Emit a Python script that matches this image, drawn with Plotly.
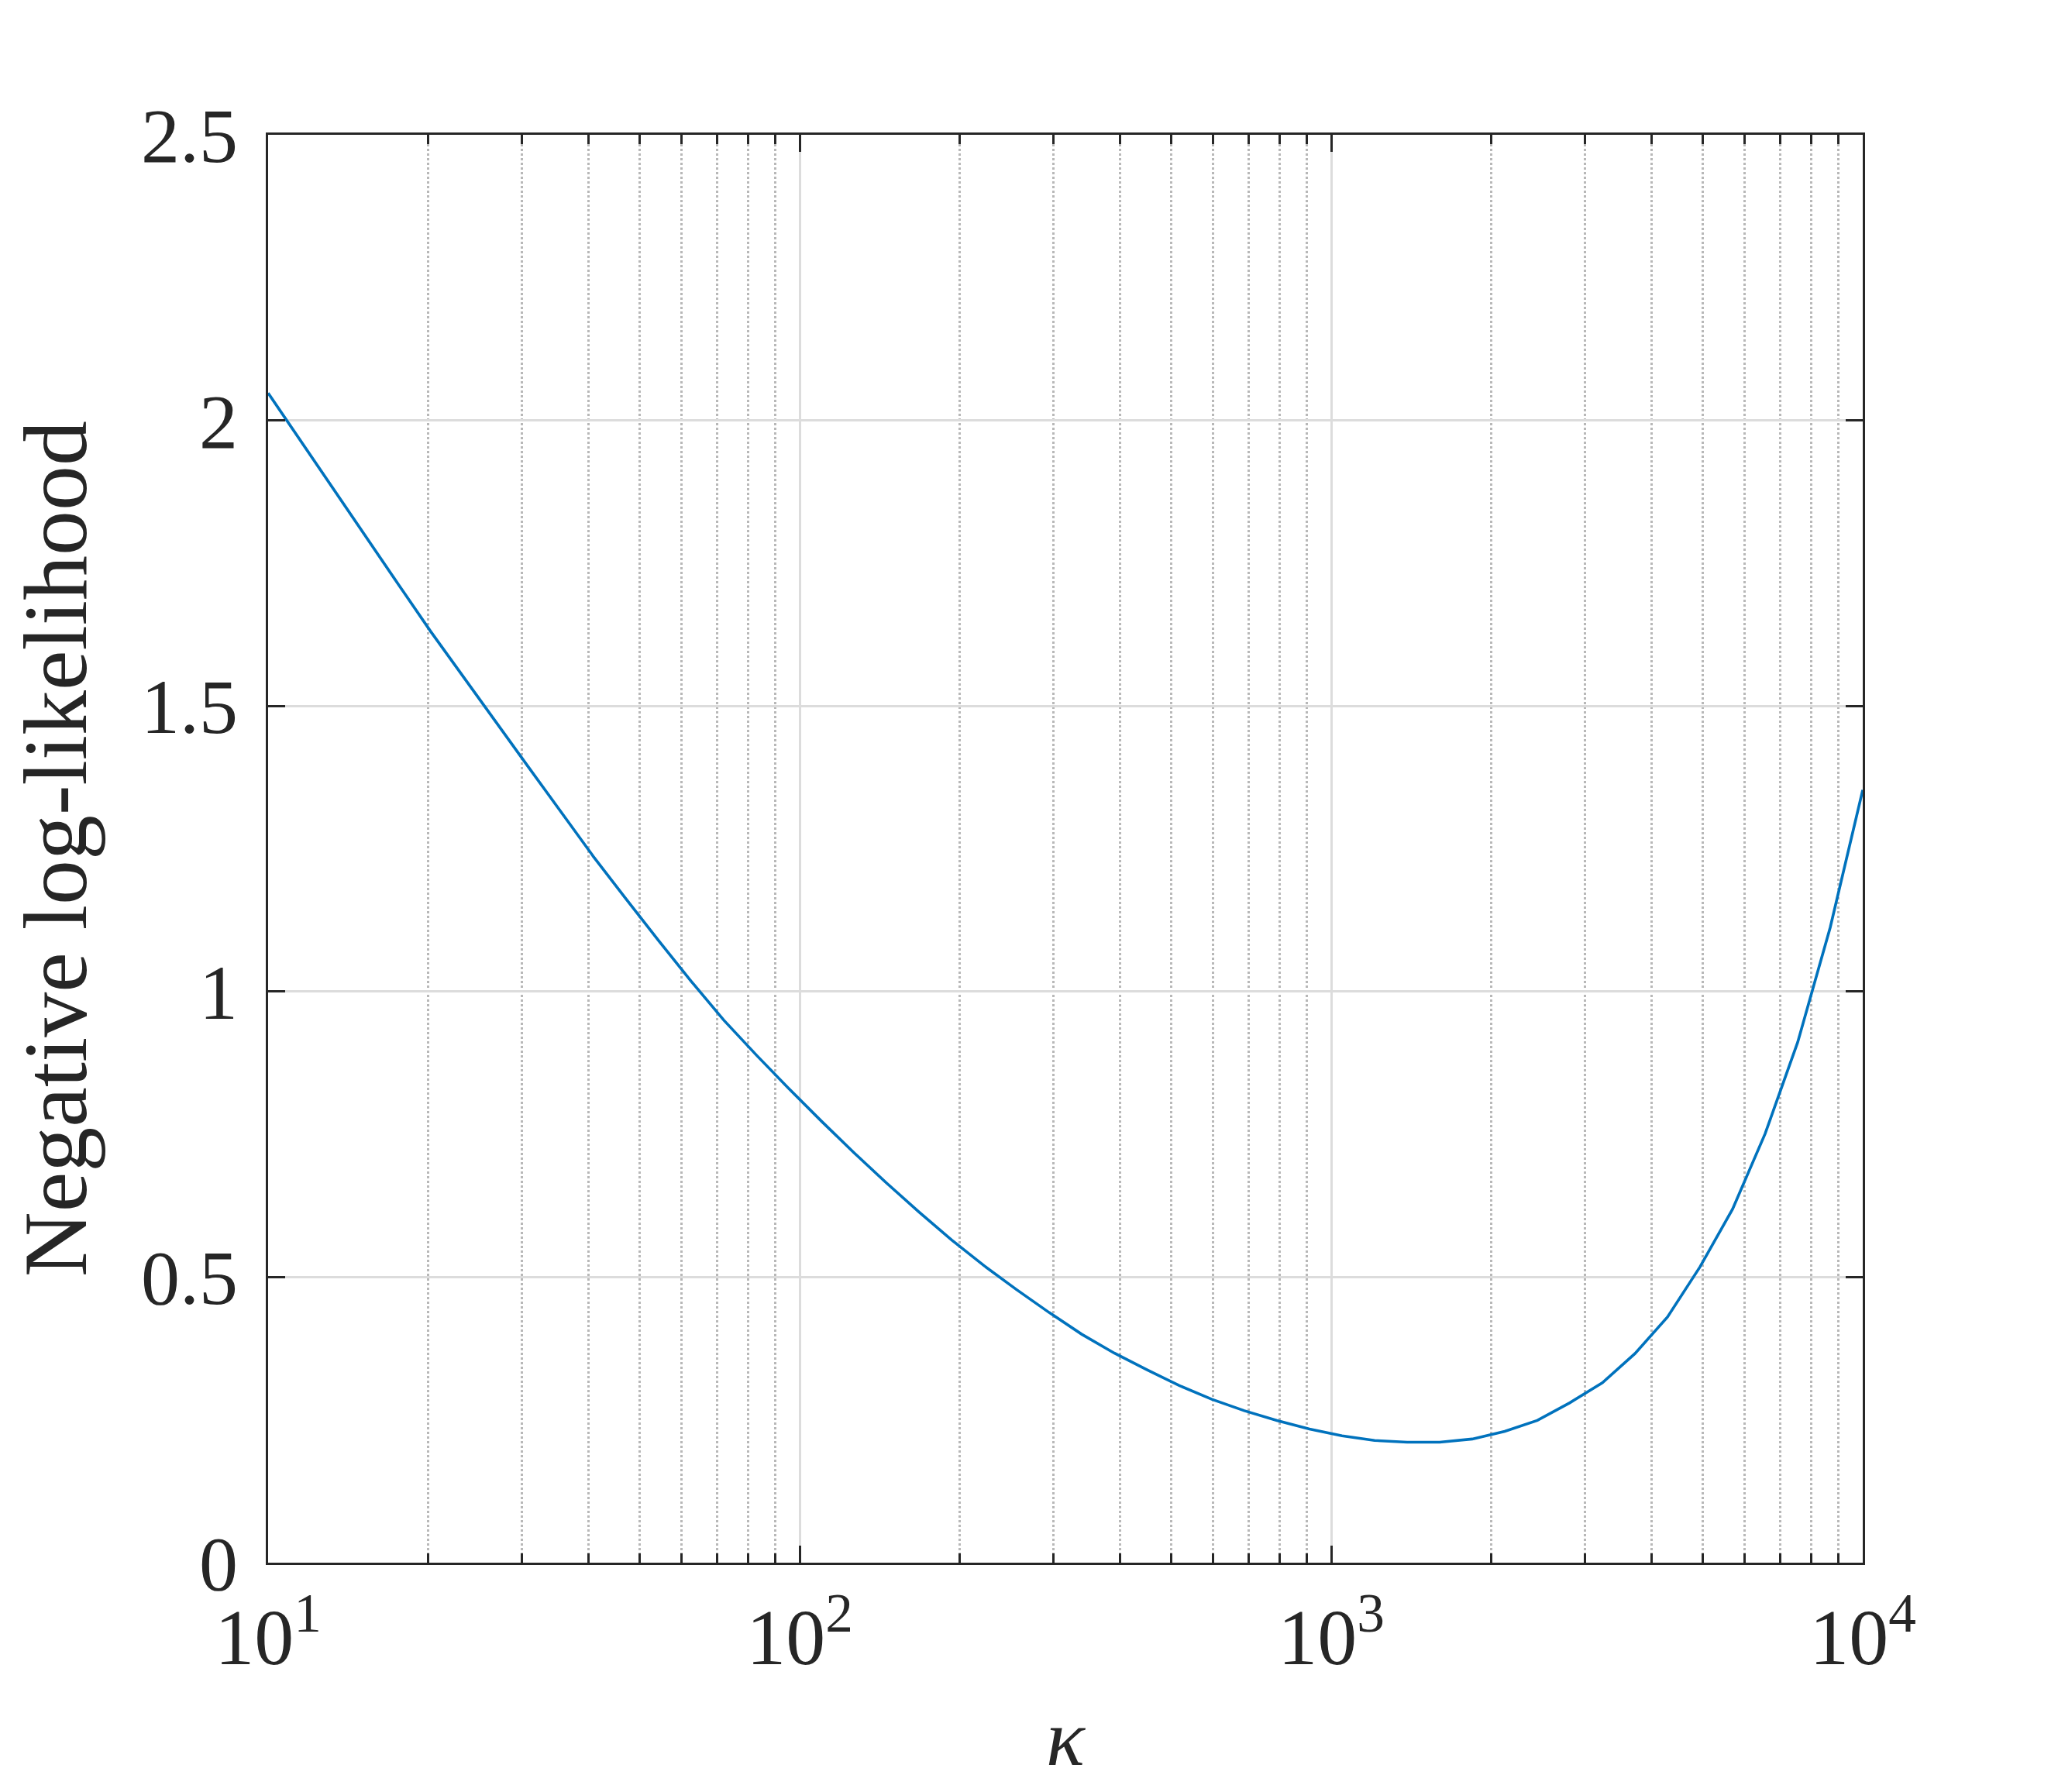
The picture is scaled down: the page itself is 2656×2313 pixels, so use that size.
import plotly.graph_objects as go

# kappa grid (log-spaced samples)
kappa = [10.0, 11.51, 13.26, 15.26, 17.58, 20.24, 23.30, 26.83, 30.89, 35.56,
         40.95, 47.15, 54.29, 62.51, 71.97, 82.86, 95.41, 109.9, 126.5, 145.6,
         167.7, 193.1, 222.3, 256.0, 294.7, 339.3, 390.7, 449.8, 517.9, 596.4,
         686.6, 790.6, 910.3, 1048.1, 1206.8, 1389.5, 1599.9, 1842.1, 2120.9, 2442.1,
         2811.8, 3237.5, 3727.6, 4291.9, 4941.7, 5689.9, 6551.3, 7543.1, 8685.1, 10000.0]

nll = [2.048, 1.964, 1.881, 1.797, 1.713, 1.630, 1.552, 1.472, 1.393, 1.314,
       1.236, 1.162, 1.089, 1.018, 0.950, 0.889, 0.830, 0.773, 0.718, 0.665,
       0.614, 0.565, 0.520, 0.478, 0.438, 0.400, 0.367, 0.338, 0.310, 0.286,
       0.266, 0.249, 0.234, 0.222, 0.214, 0.211, 0.211, 0.2165, 0.230, 0.249,
       0.280, 0.315, 0.366, 0.430, 0.518, 0.619, 0.751, 0.911, 1.112, 1.353]

x_tickvals = [10, 100, 1000, 10000]
x_ticktext = ["10<sup>1</sup>", "10<sup>2</sup>", "10<sup>3</sup>", "10<sup>4</sup>"]

FONT = "Liberation Serif"
AX = "#262626"

fig = go.Figure()
fig.add_trace(go.Scatter(x=kappa, y=nll, mode="lines",
                         line=dict(color="#0072BD", width=3.6),
                         showlegend=False))

# page body has an 8px margin, so shrink the figure to keep it on the page
fig.update_layout(
    width=2640, height=2297,
    margin=dict(l=338, r=244, t=166, b=288),
    paper_bgcolor="white", plot_bgcolor="white",
    font=dict(family=FONT, size=100, color=AX),
)

fig.update_xaxes(
    type="log", range=[1, 4],
    tickmode="array", tickvals=x_tickvals, ticktext=x_ticktext,
    showline=True, linecolor=AX, linewidth=3, mirror="ticks",
    ticks="inside", ticklen=22, tickwidth=3, tickcolor=AX,
    showgrid=True, gridcolor="#dcdcdc", gridwidth=3,
    zeroline=False,
    minor=dict(ticks="inside", ticklen=12, tickwidth=3, tickcolor=AX,
               showgrid=True, gridcolor="#b8b8b8", gridwidth=3, griddash="dot",
               dtick="D1"),
    tickfont=dict(family=FONT, size=102, color=AX),
    ticklabelstandoff=6,
    title=dict(text="<i>κ</i>", font=dict(family=FONT, size=104, color=AX), standoff=36),
)

fig.update_yaxes(
    range=[0, 2.5], dtick=0.5,
    showline=True, linecolor=AX, linewidth=3, mirror="ticks",
    ticks="inside", ticklen=22, tickwidth=3, tickcolor=AX,
    showgrid=True, gridcolor="#dcdcdc", gridwidth=3,
    zeroline=False,
    tickfont=dict(family=FONT, size=100, color=AX),
    ticklabelstandoff=16,
    title=dict(text="Negative log-likelihood", font=dict(family=FONT, size=116, color=AX), standoff=36),
)

fig.write_html("out.html")
